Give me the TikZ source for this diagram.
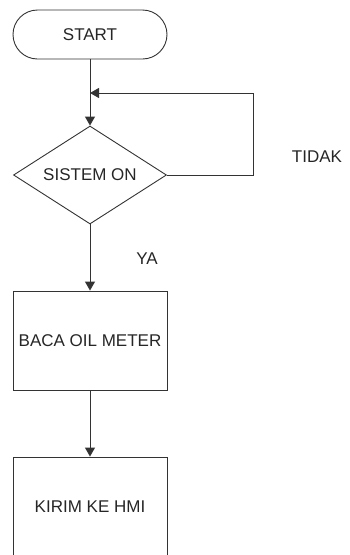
\documentclass[tikz,border=0pt]{standalone}
\usepackage{fontspec}
\setmainfont{Liberation Sans}
\usetikzlibrary{shapes.geometric,arrows.meta}
\begin{document}
\begin{tikzpicture}[x=1pt,y=-1pt,
  every node/.style={font=\fontsize{17}{19}\selectfont, text=black!85},
  term/.style={draw=black!80, line width=0.9pt, rounded corners=24.5pt, minimum width=154pt, minimum height=49pt, inner sep=0pt},
  dec/.style={draw=black!80, line width=0.9pt, diamond, aspect=1.56, minimum width=153pt, minimum height=98pt, inner sep=0pt},
  proc/.style={draw=black!80, line width=0.9pt, minimum width=154pt, minimum height=99pt, inner sep=0pt},
  lbl/.style={inner sep=0pt},
  arr/.style={draw=black!80, line width=0.9pt, -{Triangle[width=10pt,length=9pt]}}]
\useasboundingbox (0,0) rectangle (349,555);
\begin{scope}
\clip (0,0) rectangle (349,555);
\node[term] (start) at (90,34.5) {START};
\node[dec] (sys) at (90,175) {SISTEM ON};
\node[proc] (baca) at (90,340.5) {BACA OIL METER};
\node[proc] (kirim) at (90,506.5) {KIRIM KE HMI};
\node[lbl] (tidak) at (317,157) {TIDAK};
\node[lbl] (ya) at (147,259) {YA};
\coordinate (r) at (253,93);
\coordinate (j) at (90,93);
\draw[arr] (start.south) -- (sys.north);
\draw[arr] (sys.east) -| (r) -- (j);
\draw[arr] (sys.south) -- (baca.north);
\draw[arr] (baca.south) -- (kirim.north);
\end{scope}
\end{tikzpicture}
\end{document}
